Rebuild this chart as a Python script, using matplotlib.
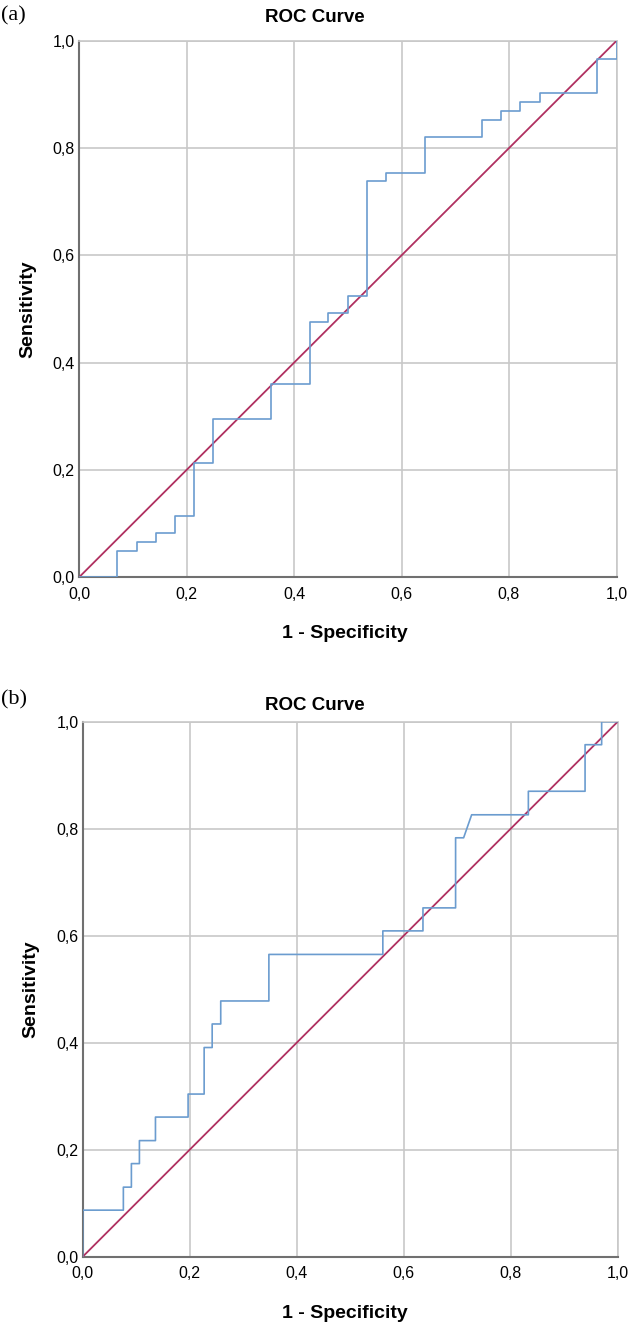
import matplotlib.pyplot as plt

plt.rcParams['font.family'] = ['Liberation Sans', 'DejaVu Sans']

# (a) ROC corner points
fpr_a = [0.0, 0.071, 0.071, 0.107, 0.107, 0.143, 0.143, 0.179, 0.179, 0.214, 0.214,
         0.25, 0.25, 0.357, 0.357, 0.429, 0.429, 0.464, 0.464, 0.5, 0.5, 0.536, 0.536,
         0.571, 0.571, 0.643, 0.643, 0.75, 0.75, 0.786, 0.786, 0.821, 0.821, 0.857,
         0.857, 0.964, 0.964, 1.0, 1.0]
tpr_a = [0.0, 0.0, 0.049, 0.049, 0.066, 0.066, 0.082, 0.082, 0.115, 0.115, 0.213,
         0.213, 0.295, 0.295, 0.361, 0.361, 0.475, 0.475, 0.492, 0.492, 0.525, 0.525,
         0.738, 0.738, 0.754, 0.754, 0.820, 0.820, 0.852, 0.852, 0.869, 0.869, 0.885,
         0.885, 0.902, 0.902, 0.967, 0.967, 1.0]

# (b)
fpr_b = [0.0, 0.0, 0.076, 0.076, 0.091, 0.091, 0.106, 0.106, 0.136, 0.136, 0.197,
         0.197, 0.227, 0.227, 0.242, 0.242, 0.258, 0.258, 0.348, 0.348, 0.561, 0.561,
         0.636, 0.636, 0.697, 0.697, 0.712, 0.727, 0.833, 0.833, 0.939, 0.939, 0.970,
         0.970, 1.0]
tpr_b = [0.0, 0.087, 0.087, 0.130, 0.130, 0.174, 0.174, 0.217, 0.217, 0.261, 0.261,
         0.304, 0.304, 0.391, 0.391, 0.435, 0.435, 0.478, 0.478, 0.565, 0.565, 0.609,
         0.609, 0.652, 0.652, 0.783, 0.783, 0.826, 0.826, 0.870, 0.870, 0.957, 0.957,
         1.0, 1.0]

ticks = [0.0, 0.2, 0.4, 0.6, 0.8, 1.0]
tick_labels = ["0,0", "0,2", "0,4", "0,6", "0,8", "1,0"]

fig = plt.figure(figsize=(6.3, 13.28), dpi=100)

def roc_panel(rect, fpr, tpr, letter, title_y, xlabel_y, letter_y):
    ax = fig.add_axes(rect)
    ax.plot([0, 1], [0, 1], color="#b03060", lw=1.3, zorder=3)
    ax.plot(fpr, tpr, color="#6b9ccf", lw=1.2, zorder=4)
    ax.set_xlim(0, 1)
    ax.set_ylim(0, 1)
    ax.set_xticks(ticks)
    ax.set_yticks(ticks)
    ax.set_xticklabels(tick_labels, fontsize=11.5)
    ax.set_yticklabels(tick_labels, fontsize=11.5)
    ax.tick_params(axis="x", length=0, pad=7)
    ax.tick_params(axis="y", length=0, pad=3)
    ax.grid(True, color="#c8c8c8", lw=1.2)
    ax.set_axisbelow(True)
    for s in ["top", "right"]:
        ax.spines[s].set_color("#c8c8c8")
        ax.spines[s].set_linewidth(1.2)
    for s in ["left", "bottom"]:
        ax.spines[s].set_color("#707070")
        ax.spines[s].set_linewidth(1.5)
    ax.set_ylabel("Sensitivity", fontsize=14, fontweight="bold", labelpad=12)
    fig.text(0.5, 1 - title_y / 1328, "ROC Curve", fontsize=13.5, fontweight="bold",
             ha="center", va="center")
    fig.text(0.548, 1 - xlabel_y / 1328, "1 - Specificity", fontsize=14,
             fontweight="bold", ha="center", va="center")
    fig.text(0.002, 1 - letter_y / 1328, letter, fontsize=16,
             family=["Liberation Serif", "DejaVu Serif"], ha="left", va="center")
    return ax

ax1 = roc_panel([79 / 630, 750.7 / 1328, 537.5 / 630, 536.5 / 1328],
                fpr_a, tpr_a, "(a)", 17, 633, 16)
ax2 = roc_panel([82.7 / 630, 71.3 / 1328, 535 / 630, 535 / 1328],
                fpr_b, tpr_b, "(b)", 705, 1313, 700)

fig.savefig("out.png", dpi=100)
